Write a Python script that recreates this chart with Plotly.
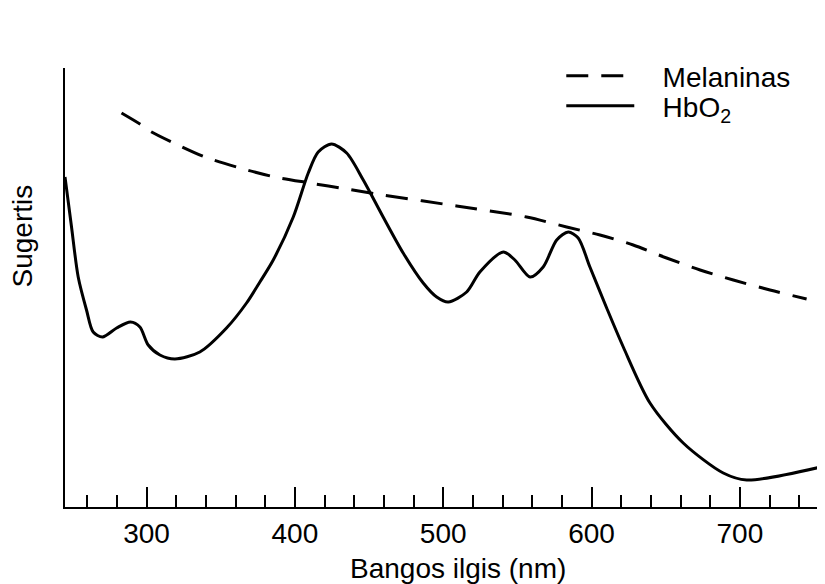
import plotly.graph_objects as go

# Wavelength (nm) and relative absorbance (arbitrary units)
hbo2_nm = [245, 249.4, 253.9, 259.5, 264.0, 270.3, 279.8, 289.2, 295.5, 301.1, 309.0, 319.1,
           335.9, 353.9, 367.4, 376.4, 385.4, 398.9, 409.0, 415.7, 424.7, 434.9, 446.1, 459.5,
           473.0, 486.5, 495.6, 503.4, 515.8, 524.7, 540.5, 548.3, 558.5, 567.4, 576.5, 584.3,
           591.0, 598.9, 610.2, 621.4, 639.4, 661.8, 688.8, 704.6, 757.4]
hbo2_abs = [330, 280, 230, 197, 175, 170, 179, 185, 180, 162, 152, 148,
            155, 179, 204, 225, 247, 290, 334, 355, 363, 354, 327, 290,
            254, 224, 210, 205, 215, 235, 255, 247, 230, 240, 267, 275,
            269, 240, 199, 160, 104, 64, 34, 27, 41]

mel_nm = [283.1, 295.5, 303.4, 316.9, 339.3, 362.9, 386.5, 410.1, 434.9, 459.5, 509.0,
          556.2, 583.2, 605.7, 628.1, 650.6, 673.2, 695.6, 720.3, 745.0]
mel_abs = [394, 383, 375, 365, 350, 339, 330, 324, 318, 312, 301,
           290, 280, 272, 262, 249, 237, 227, 217, 208]

major_ticks = [300, 400, 500, 600, 700]
tick_labels = ["300", "400", "500", "600", "700"]

x_title = "Bangos ilgis (nm)"
y_title = "Sugertis"

FONT = "Liberation Sans, Arial, sans-serif"
FS = 28
NB = "\u00a0\u00a0\u00a0"

fig = go.Figure()
fig.add_trace(go.Scatter(
    x=mel_nm, y=mel_abs, mode="lines", name=NB + "Melaninas", legend="legend",
    line=dict(color="black", width=3, dash="22px,13px", shape="spline", smoothing=0.8),
))
fig.add_trace(go.Scatter(
    x=hbo2_nm, y=hbo2_abs, mode="lines", name=NB + "HbO<sub>2</sub>", legend="legend2",
    line=dict(color="black", width=3, shape="spline", smoothing=0.8),
))

leg_common = dict(
    xanchor="left", yanchor="middle",
    bgcolor="rgba(0,0,0,0)", itemwidth=68,
    font=dict(family=FONT, size=FS, color="black"),
    itemclick=False, itemdoubleclick=False,
)

fig.update_layout(
    width=817, height=576,
    margin=dict(l=57, r=0, t=60, b=77),
    paper_bgcolor="white", plot_bgcolor="white",
    font=dict(family=FONT, size=FS, color="black"),
    showlegend=True,
    legend=dict(x=0.653, y=(507 - 76) / 439, **leg_common),
    legend2=dict(x=0.653, y=(507 - 106) / 439, **leg_common),
    xaxis=dict(
        range=[245, 757.4], showgrid=False, zeroline=False,
        showline=True, linecolor="black", linewidth=2,
        tickmode="array", tickvals=major_ticks, ticktext=tick_labels,
        ticks="inside", ticklen=20, tickwidth=2, tickcolor="black",
        tickfont=dict(family=FONT, size=FS, color="black"),
        minor=dict(dtick=20, tick0=0, ticks="inside", ticklen=12, tickwidth=2,
                   tickcolor="black", showgrid=False),
    ),
    yaxis=dict(
        range=[0, 439], showgrid=False, zeroline=False,
        showline=True, linecolor="black", linewidth=2,
        showticklabels=False, ticks="",
    ),
    annotations=[
        dict(text=x_title, xref="paper", yref="paper", x=(458 - 65) / 760, y=-61 / 439,
             xanchor="center", yanchor="middle", showarrow=False,
             font=dict(family=FONT, size=FS, color="black")),
        dict(text=y_title, xref="paper", yref="paper", x=(22.5 - 65) / 760, y=(507 - 236) / 439,
             xanchor="center", yanchor="middle", showarrow=False, textangle=-90,
             font=dict(family=FONT, size=FS, color="black")),
    ],
)

fig.write_html("out.html")
